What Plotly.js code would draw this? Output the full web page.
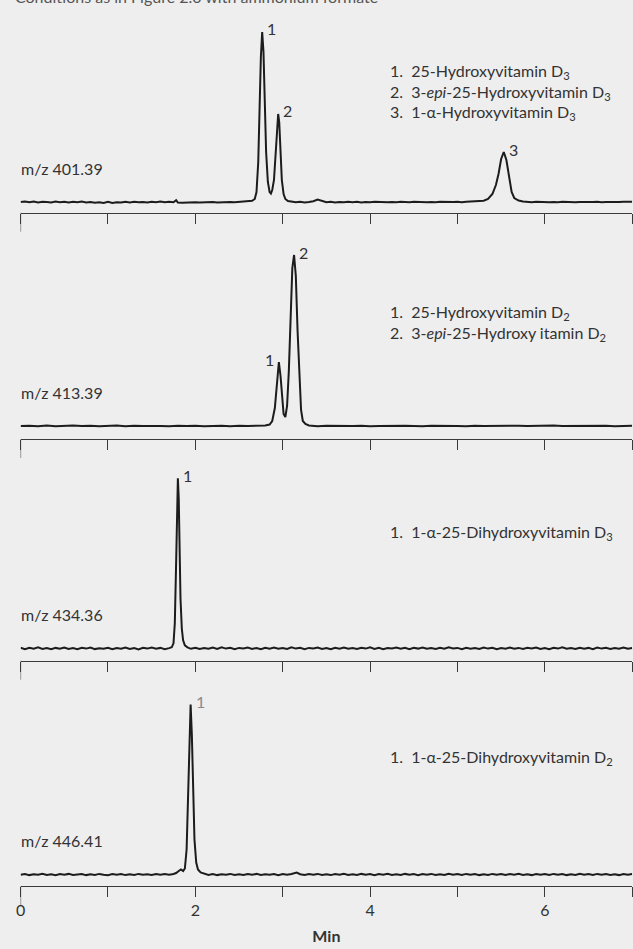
<!DOCTYPE html>
<html>
<head>
<meta charset="utf-8">
<script src="https://cdn.plot.ly/plotly-3.0.1.min.js"></script>
<style>
html,body{margin:0;padding:0;background:#eeeeee;}
#chart{width:633px;height:949px;}
</style>
</head>
<body>
<div id="chart"></div>
<script>
// ---------- DATA (time in min, signal in relative units above baseline) ----------
const topNote = "Conditions as in Figure 2.0 with ammonium formate";
const tickVals = [0,1,2,3,4,5,6,7];
const tickLabels = ["0","","2","","4","","6",""];
const xTitle = "Min";

const mz = ["m/z 401.39","m/z 413.39","m/z 434.36","m/z 446.41"];

const legend401 = ["1.  25-Hydroxyvitamin D<sub>3</sub>","2.  3-<i>epi</i>-25-Hydroxyvitamin D<sub>3</sub>","3.  1-α-Hydroxyvitamin D<sub>3</sub>"];
const legend413 = ["1.  25-Hydroxyvitamin D<sub>2</sub>","2.  3-<i>epi</i>-25-Hydroxy itamin D<sub>2</sub>"];
const legend434 = ["1.  1-α-25-Dihydroxyvitamin D<sub>3</sub>"];
const legend446 = ["1.  1-α-25-Dihydroxyvitamin D<sub>2</sub>"];

const peaks401 = ["1","2","3"], peakTimes401 = [2.765,2.948,5.53];
const peaks413 = ["1","2"],     peakTimes413 = [2.956,3.13];
const peaks434 = ["1"],         peakTimes434 = [1.80];
const peaks446 = ["1"],         peakTimes446 = [1.946];

const trace401 = [
[0,0],[0.05,0.5],[0.1,-0.3],[0.15,0.4],[0.2,-0.5],[0.25,0.3],[0.3,0],[0.35,-0.4],[0.4,0.5],[0.45,-0.2],
[0.5,0.3],[0.55,-0.6],[0.6,0.2],[0.65,-0.3],[0.7,0.4],[0.75,-0.5],[0.8,0.1],[0.85,-0.8],[0.9,-0.3],[0.95,-1],
[1,0.2],[1.05,-0.9],[1.1,-0.2],[1.15,-0.6],[1.2,0.3],[1.25,-0.4],[1.3,0.2],[1.35,-0.3],[1.4,0.1],[1.45,-0.5],
[1.5,0.3],[1.55,-0.2],[1.6,0.4],[1.65,-0.3],[1.7,0.2],[1.75,-0.2],[1.78,1.8],[1.8,-0.6],[1.85,-0.8],[1.9,-0.4],
[1.95,-0.7],[2,-0.3],[2.05,-0.6],[2.1,-0.2],[2.15,-0.5],[2.2,-0.1],[2.25,-0.4],[2.3,0],[2.35,-0.3],[2.4,0.1],
[2.45,-0.2],[2.5,0.2],[2.55,0],[2.6,0.5],[2.65,1.2],[2.68,3],[2.7,10],[2.72,40],[2.735,95],[2.75,145],
[2.765,170],[2.78,150],[2.795,100],[2.81,50],[2.83,20],[2.85,10],[2.865,8.5],[2.88,12],[2.9,22],[2.92,48],
[2.935,76],[2.948,88],[2.96,80],[2.975,50],[2.99,22],[3.01,8],[3.03,3],[3.06,1],[3.1,0.3],[3.15,-0.3],
[3.2,0.2],[3.25,-0.4],[3.3,0],[3.35,0.8],[3.4,2.5],[3.45,1.2],[3.5,-0.3],[3.55,0.2],[3.6,-0.5],[3.65,0.1],
[3.7,-0.3],[3.75,0.3],[3.8,-0.2],[3.85,0.2],[3.9,-0.4],[3.95,0.1],[4,-0.2],[4.05,0.3],[4.1,-0.1],[4.15,0.2],
[4.2,-0.3],[4.25,0.1],[4.3,-0.2],[4.35,0.3],[4.4,0],[4.45,-0.3],[4.5,0.2],[4.55,-0.1],[4.6,0.3],[4.65,-0.2],
[4.7,0.1],[4.75,-0.3],[4.8,0.2],[4.85,-0.1],[4.9,0.3],[4.95,0],[5,0.2],[5.05,-0.2],[5.1,0.3],[5.15,0.4],
[5.2,0.5],[5.25,0.8],[5.3,1.3],[5.35,3],[5.4,8],[5.44,17],[5.47,28],[5.5,43],[5.53,50],[5.56,42],
[5.59,24],[5.62,10],[5.65,4],[5.7,1.5],[5.75,0.5],[5.8,0.2],[5.85,-0.2],[5.9,0.3],[5.95,-0.1],[6,0.2],
[6.05,-0.3],[6.1,0.1],[6.15,-0.2],[6.2,0.3],[6.25,-0.1],[6.3,0.2],[6.35,-0.3],[6.4,0],[6.45,-0.2],[6.5,0.3],
[6.55,-0.1],[6.6,0.2],[6.65,-0.3],[6.7,0.1],[6.75,-0.2],[6.8,0.2],[6.85,-0.1],[6.9,0.3],[6.95,0],[7,0.2]
];

const trace413 = [
[0,0],[0.1,0.3],[0.2,-0.2],[0.3,0.4],[0.4,-0.3],[0.5,0.2],[0.6,0.5],[0.7,-0.1],[0.8,0.3],[0.9,-0.2],
[1,0.1],[1.1,0.4],[1.2,-0.3],[1.3,0.2],[1.4,-0.1],[1.5,0.3],[1.6,0],[1.7,-0.2],[1.8,0.3],[1.9,-0.1],
[2,0.2],[2.1,-0.3],[2.2,0.1],[2.3,0.2],[2.4,-0.2],[2.5,0.3],[2.6,0],[2.7,0.2],[2.8,0.5],[2.85,1.5],
[2.88,5],[2.91,18],[2.935,45],[2.956,64],[2.975,50],[2.995,25],[3.01,12],[3.03,9],[3.05,20],[3.07,55],
[3.09,110],[3.11,158],[3.13,171],[3.15,150],[3.17,95],[3.19,45],[3.21,16],[3.23,5],[3.26,2],[3.3,0.5],
[3.4,-0.2],[3.5,0.3],[3.6,0],[3.7,0.4],[3.8,-0.1],[3.9,0.2],[4,-0.3],[4.1,0.1],[4.2,0.3],[4.3,-0.2],
[4.4,0.2],[4.5,0],[4.6,-0.3],[4.7,0.2],[4.8,0.4],[4.9,-0.1],[5,0.1],[5.1,-0.2],[5.2,0.3],[5.3,0],
[5.4,0.2],[5.5,-0.3],[5.6,0.1],[5.7,0.3],[5.8,-0.1],[5.9,0.2],[6,-0.2],[6.1,0.4],[6.2,0],[6.3,0.1],
[6.4,-0.3],[6.5,0.2],[6.6,0],[6.7,0.3],[6.8,-0.2],[6.9,0.1],[7,0.2]
];

const trace434 = [
[0,0.5],[0.05,-0.8],[0.1,0.6],[0.15,-0.4],[0.2,0.9],[0.25,-0.6],[0.3,0.3],[0.35,-1],[0.4,0.4],[0.45,-0.5],
[0.5,0.8],[0.55,-0.7],[0.6,0.2],[0.65,-0.9],[0.7,0.5],[0.75,-0.3],[0.8,0.7],[0.85,-0.8],[0.9,0.1],[0.95,-0.5],
[1,0.6],[1.05,-0.9],[1.1,0.3],[1.15,-0.4],[1.2,0.8],[1.25,-0.6],[1.3,0.2],[1.35,-1.1],[1.4,0.5],[1.45,-0.3],
[1.5,0.7],[1.55,-0.5],[1.6,0.4],[1.65,-0.8],[1.7,0.2],[1.73,1],[1.75,5],[1.765,25],[1.78,85],[1.79,140],
[1.8,170],[1.81,150],[1.82,100],[1.83,50],[1.845,20],[1.86,8],[1.88,3],[1.91,1],[1.95,-0.5],[2,0.6],
[2.05,-0.7],[2.1,0.3],[2.15,-0.4],[2.2,0.8],[2.25,-0.6],[2.3,0.9],[2.35,-0.3],[2.4,0.5],[2.45,-0.8],[2.5,0.4],
[2.55,-0.2],[2.6,0.7],[2.65,-0.6],[2.7,0.3],[2.75,-0.9],[2.8,0.6],[2.85,-0.4],[2.9,0.8],[2.95,-0.5],[3,0.2],
[3.05,-0.7],[3.1,0.9],[3.15,-0.3],[3.2,0.5],[3.25,-0.8],[3.3,0.4],[3.35,-0.2],[3.4,0.7],[3.45,-0.6],[3.5,0.3],
[3.55,-0.9],[3.6,0.6],[3.65,-0.4],[3.7,0.8],[3.75,-0.5],[3.8,0.2],[3.85,-0.7],[3.9,0.5],[3.95,-0.3],[4,0.9],
[4.05,-0.6],[4.1,0.4],[4.15,-0.8],[4.2,0.3],[4.25,-0.2],[4.3,0.7],[4.35,-0.5],[4.4,0.5],[4.45,-0.9],[4.5,0.6],
[4.55,-0.3],[4.6,0.8],[4.65,-0.4],[4.7,0.2],[4.75,-0.7],[4.8,0.5],[4.85,-0.5],[4.9,0.9],[4.95,-0.2],[5,0.4],
[5.05,-0.8],[5.1,0.6],[5.15,-0.4],[5.2,0.3],[5.25,-0.6],[5.3,0.8],[5.35,-0.3],[5.4,0.5],[5.45,-0.9],[5.5,0.2],
[5.55,-0.5],[5.6,0.7],[5.65,-0.4],[5.7,0.4],[5.75,-0.7],[5.8,0.6],[5.85,-0.2],[5.9,0.8],[5.95,-0.6],[6,0.3],
[6.05,-0.8],[6.1,0.5],[6.15,-0.3],[6.2,0.9],[6.25,-0.5],[6.3,0.2],[6.35,-0.7],[6.4,0.6],[6.45,-0.4],[6.5,0.4],
[6.55,-0.9],[6.6,0.7],[6.65,-0.3],[6.7,0.5],[6.75,-0.6],[6.8,0.3],[6.85,-0.4],[6.9,0.8],[6.95,-0.5],[7,0.2]
];

const trace446 = [
[0,-0.3],[0.05,0.5],[0.1,-0.6],[0.15,0.3],[0.2,-0.2],[0.25,0.7],[0.3,-0.4],[0.35,0.2],[0.4,-0.7],[0.45,0.4],
[0.5,-0.3],[0.55,0.6],[0.6,-0.5],[0.65,0.1],[0.7,0.5],[0.75,-0.6],[0.8,0.3],[0.85,-0.4],[0.9,0.6],[0.95,-0.2],
[1,-0.7],[1.05,0.4],[1.1,-0.3],[1.15,0.5],[1.2,-0.6],[1.25,0.2],[1.3,-0.4],[1.35,0.6],[1.4,-0.2],[1.45,0.3],
[1.5,-0.5],[1.55,0.4],[1.6,-0.3],[1.65,0.5],[1.7,-0.2],[1.75,0.5],[1.78,1.5],[1.81,3.5],[1.835,5],[1.86,3.5],
[1.88,6],[1.9,25],[1.915,70],[1.93,130],[1.946,170],[1.96,140],[1.975,80],[1.99,35],[2.01,12],[2.03,5],
[2.06,2],[2.1,1],[2.15,-0.4],[2.2,0.5],[2.25,-0.6],[2.3,0.3],[2.35,-0.2],[2.4,0.6],[2.45,-0.5],[2.5,0.2],
[2.55,-0.4],[2.6,0.5],[2.65,-0.3],[2.7,0.6],[2.75,-0.5],[2.8,0.3],[2.85,-0.2],[2.9,0.5],[2.95,-0.6],[3,0.4],
[3.05,-0.2],[3.1,0.6],[3.16,2],[3.2,0.3],[3.25,-0.5],[3.3,0.4],[3.35,-0.3],[3.4,0.6],[3.45,-0.4],[3.5,0.2],
[3.55,-0.6],[3.6,0.5],[3.65,-0.2],[3.7,0.7],[3.75,-0.4],[3.8,0.3],[3.85,-0.5],[3.9,0.6],[3.95,-0.3],[4,0.4],
[4.05,-0.6],[4.1,0.5],[4.15,-0.2],[4.2,0.7],[4.25,-0.4],[4.3,0.3],[4.35,-0.5],[4.4,0.6],[4.45,-0.3],[4.5,0.4],
[4.55,-0.6],[4.6,0.5],[4.65,-0.2],[4.7,0.6],[4.75,-0.4],[4.8,0.3],[4.85,-0.5],[4.9,0.7],[4.95,-0.3],[5,0.4],
[5.05,-0.5],[5.1,0.6],[5.15,-0.2],[5.2,0.5],[5.25,-0.6],[5.3,0.3],[5.35,-0.4],[5.4,0.6],[5.45,-0.3],[5.5,0.5],
[5.55,-0.5],[5.6,0.4],[5.65,-0.2],[5.7,0.7],[5.75,-0.4],[5.8,0.3],[5.85,-0.6],[5.9,0.5],[5.95,-0.3],[6,0.4],
[6.05,-0.5],[6.1,0.6],[6.15,-0.2],[6.2,0.5],[6.25,-0.6],[6.3,0.3],[6.35,-0.4],[6.4,0.7],[6.45,-0.3],[6.5,0.4],
[6.55,-0.5],[6.6,0.6],[6.65,-0.2],[6.7,0.5],[6.75,-0.4],[6.8,0.3],[6.85,-0.6],[6.9,0.5],[6.95,-0.3],[7,0.4]
];

// ---------- LAYOUT HELPERS ----------
const W = 633, H = 949;
const py = p => 1 - p / H;          // pixel row -> paper fraction
const pxx = p => p / W;             // pixel col -> paper fraction
const FONT = "Lato, 'Liberation Sans', Arial, sans-serif";
const INK = "#1c1c1c";

// panel geometry: [axis line row, baseline row, top row]
const panels = [
  {data: trace401, axis: 212.7, base: 202,   top: 12.7,  mz: mz[0], legend: legend401, legendRows: [72, 92.5, 113],
   labels: peaks401, labelTimes: peakTimes401, labelSide: ["r","r","r"], labelColor: "#333"},
  {data: trace413, axis: 439,   base: 426,   top: 239,   mz: mz[1], legend: legend413, legendRows: [313, 333.5],
   labels: peaks413, labelTimes: peakTimes413, labelSide: ["l","r"], labelColor: "#333"},
  {data: trace434, axis: 660.7, base: 648.3, top: 460.7, mz: mz[2], legend: legend434, legendRows: [532],
   labels: peaks434, labelTimes: peakTimes434, labelSide: ["r"], labelColor: "#333"},
  {data: trace446, axis: 886,   base: 874.5, top: 686,   mz: mz[3], legend: legend446, legendRows: [757],
   labels: peaks446, labelTimes: peakTimes446, labelSide: ["r"], labelColor: "#8a8a8a"}
];

const xDomain = [pxx(20.6), pxx(632.2)];
const traces = [];
const layout = {
  width: W, height: H,
  margin: {l:0, r:0, t:0, b:0},
  paper_bgcolor: "#eeeeee", plot_bgcolor: "#eeeeee",
  showlegend: false,
  font: {family: FONT, color: "#333", size: 15},
  annotations: [], shapes: []
};

function nearestValue(series, t) {
  let best = series[0];
  for (const p of series) if (Math.abs(p[0]-t) < Math.abs(best[0]-t)) best = p;
  return best[1];
}

layout.annotations.push({
  xref: "paper", yref: "paper", x: pxx(13), y: py(-4), xanchor: "left", yanchor: "middle",
  text: topNote, showarrow: false, font: {size: 16, color: "#555", family: FONT}
});

panels.forEach((pn, i) => {
  const k = i + 1;
  const xa = "xaxis" + (k === 1 ? "" : k), ya = "yaxis" + (k === 1 ? "" : k);
  const xr = "x" + (k === 1 ? "" : k), yr = "y" + (k === 1 ? "" : k);
  const hPix = pn.axis - pn.top;
  const gap = pn.axis - pn.base;
  traces.push({
    type: "scatter", mode: "lines",
    x: pn.data.map(p => p[0]), y: pn.data.map(p => p[1]),
    xaxis: xr, yaxis: yr,
    line: {color: INK, width: 2, shape: "linear"},
    hoverinfo: "skip"
  });
  const last = (k === panels.length);
  layout[xa] = {
    domain: xDomain, anchor: yr, range: [0, 7],
    showline: true, linecolor: "#3a3a3a", linewidth: 1,
    ticks: "outside", ticklen: 10, tickwidth: 1, tickcolor: "#3a3a3a",
    tickmode: "array", tickvals: tickVals, ticktext: tickLabels,
    showticklabels: last, tickfont: {size: 16, color: "#333", family: FONT},
    showgrid: false, zeroline: false, fixedrange: true
  };
  if (last) layout[xa].title = {text: "<b>" + xTitle + "</b>", font: {size: 16, color: "#333", family: FONT}, standoff: 12};
  layout[ya] = {
    domain: [py(pn.axis), py(pn.top)], anchor: xr,
    range: [-gap, hPix - gap],
    visible: false, showgrid: false, zeroline: false, fixedrange: true
  };
  // longer tick at time 0
  layout.shapes.push({
    type: "line", xref: xr, yref: "paper", x0: 0, x1: 0,
    y0: py(pn.axis), y1: py(pn.axis + 19),
    line: {color: "#3a3a3a", width: 1}
  });
  // m/z label
  layout.annotations.push({
    xref: "paper", yref: "paper", x: pxx(19), y: py(pn.base - 34), xanchor: "left", yanchor: "middle",
    text: pn.mz, showarrow: false, font: {size: 16, color: "#333", family: FONT}
  });
  // compound list
  pn.legend.forEach((txt, j) => {
    layout.annotations.push({
      xref: "paper", yref: "paper", x: pxx(388), y: py(pn.legendRows[j]), xanchor: "left", yanchor: "middle",
      text: txt, showarrow: false, font: {size: 16, color: "#333", family: FONT}
    });
  });
  // peak numbers
  pn.labels.forEach((lab, j) => {
    const t = pn.labelTimes[j];
    const right = pn.labelSide[j] === "r";
    layout.annotations.push({
      xref: xr, yref: yr, x: t, y: nearestValue(pn.data, t),
      xanchor: right ? "left" : "right", yanchor: "middle",
      xshift: right ? 3 : -3, yshift: 3,
      text: lab, showarrow: false, font: {size: 16, color: pn.labelColor, family: FONT}
    });
  });
});

Plotly.newPlot("chart", traces, layout, {staticPlot: true, displayModeBar: false});
</script>
</body>
</html>
